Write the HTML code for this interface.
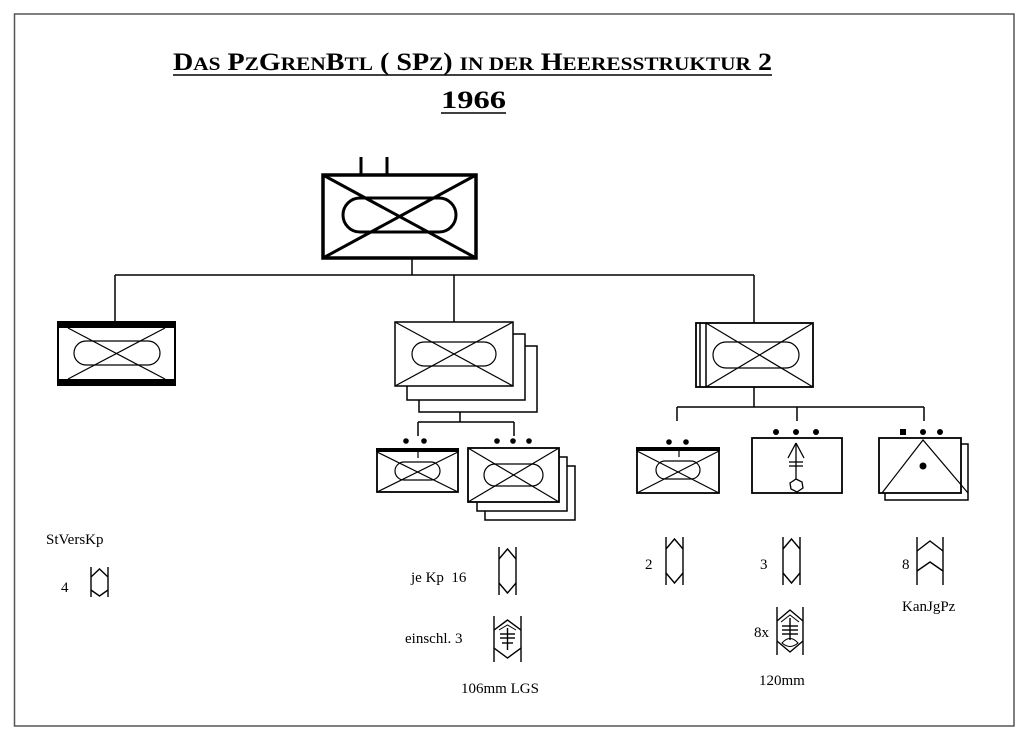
<!DOCTYPE html>
<html><head><meta charset="utf-8"><style>
html,body{margin:0;padding:0;background:#fff;}
svg{display:block;}
text{font-family:"Liberation Serif",serif;fill:#000;}
</style></head><body>
<svg width="1024" height="738" viewBox="0 0 1024 738" xmlns="http://www.w3.org/2000/svg">
<rect x="0" y="0" width="1024" height="738" fill="#fff"/>
<rect x="14.5" y="14" width="999.5" height="712" fill="none" stroke="#555" stroke-width="1.5"/>

<!-- Title -->
<text x="173" y="70" font-size="25" font-weight="bold" textLength="599" lengthAdjust="spacingAndGlyphs">D<tspan font-size="19">AS</tspan> P<tspan font-size="19">Z</tspan>G<tspan font-size="19">REN</tspan>B<tspan font-size="19">TL</tspan> ( SP<tspan font-size="19">Z</tspan>) <tspan font-size="19">IN DER</tspan> H<tspan font-size="19">EERESSTRUKTUR</tspan> 2</text>
<line x1="173" y1="75" x2="772" y2="75" stroke="#000" stroke-width="1.5"/>
<text x="441" y="108" font-size="25" font-weight="bold" textLength="65" lengthAdjust="spacingAndGlyphs">1966</text>
<line x1="441" y1="113" x2="506" y2="113" stroke="#000" stroke-width="1.5"/>

<g fill="none" stroke="#000">
<!-- HQ -->
<line x1="361" y1="157" x2="361" y2="174" stroke-width="3"/>
<line x1="387" y1="157" x2="387" y2="174" stroke-width="3"/>
<rect x="323" y="175" width="153" height="83" stroke-width="3.5"/>
<line x1="323" y1="175" x2="476" y2="258" stroke-width="3"/>
<line x1="476" y1="175" x2="323" y2="258" stroke-width="3"/>
<rect x="343" y="198" width="113" height="34" rx="17" stroke-width="3"/>

<!-- connectors level 1 -->
<g stroke-width="1.5">
<line x1="412" y1="258" x2="412" y2="275"/>
<line x1="115" y1="275" x2="754" y2="275"/>
<line x1="115" y1="275" x2="115" y2="321"/>
<line x1="454" y1="275" x2="454" y2="322"/>
<line x1="754" y1="275" x2="754" y2="323"/>
</g>

<!-- StVersKp box -->
<rect x="58" y="322" width="117" height="63" stroke-width="2"/>
<rect x="57" y="321" width="119" height="7" fill="#000" stroke="none"/>
<rect x="57" y="379" width="119" height="7" fill="#000" stroke="none"/>
<g stroke-width="1.2">
<line x1="68" y1="328" x2="165" y2="379"/><line x1="165" y1="328" x2="68" y2="379"/>
<rect x="74" y="341" width="86" height="24" rx="12"/>
</g>

<!-- PzGrenKp stacked -->
<g stroke-width="1.5">
<polyline points="419,400 419,412 537,412 537,346 525,346"/>
<polyline points="407,386 407,400 525,400 525,334 513,334"/>
<rect x="395" y="322" width="118" height="64" fill="#fff"/>
</g>
<g stroke-width="1.2">
<line x1="395" y1="322" x2="513" y2="386"/><line x1="513" y1="322" x2="395" y2="386"/>
<rect x="412" y="342" width="84" height="24" rx="12"/>
</g>
<g stroke-width="1.5">
<line x1="460" y1="412" x2="460" y2="422"/>
<line x1="418" y1="422" x2="514" y2="422"/>
<line x1="418" y1="422" x2="418" y2="436"/>
<line x1="514" y1="422" x2="514" y2="436"/>
</g>

<!-- sub box 1 -->
<rect x="377" y="449" width="81" height="43" stroke-width="1.8"/>
<rect x="376" y="448" width="83" height="4" fill="#000" stroke="none"/>
<g stroke-width="1.2">
<line x1="377" y1="452" x2="458" y2="492"/><line x1="458" y1="452" x2="377" y2="492"/>
<rect x="395" y="462" width="45" height="18" rx="9"/>
<line x1="418" y1="452" x2="418" y2="458"/>
</g>
<!-- sub box 2 stacked -->
<g stroke-width="1.5">
<polyline points="485,511 485,520 575,520 575,466 567,466"/>
<polyline points="477,502 477,511 567,511 567,457 559,457"/>
<rect x="468" y="448" width="91" height="54" fill="#fff" stroke-width="1.8"/>
</g>
<g stroke-width="1.2">
<line x1="468" y1="448" x2="559" y2="502"/><line x1="559" y1="448" x2="468" y2="502"/>
<rect x="484" y="464" width="59" height="22" rx="11"/>
</g>

<!-- Right top box -->
<rect x="696" y="323" width="117" height="64" stroke-width="1.8"/>
<line x1="700" y1="323" x2="700" y2="387" stroke-width="1.5"/>
<line x1="706" y1="323" x2="706" y2="387" stroke-width="1.5"/>
<g stroke-width="1.2">
<line x1="706" y1="323" x2="813" y2="387"/><line x1="813" y1="323" x2="706" y2="387"/>
<rect x="713" y="342" width="86" height="26" rx="13"/>
</g>
<g stroke-width="1.5">
<line x1="754" y1="387" x2="754" y2="407"/>
<line x1="677" y1="407" x2="924" y2="407"/>
<line x1="677" y1="407" x2="677" y2="421"/>
<line x1="797" y1="407" x2="797" y2="421"/>
<line x1="924" y1="407" x2="924" y2="421"/>
</g>

<!-- Box A -->
<rect x="637" y="449" width="82" height="44" stroke-width="1.8"/>
<rect x="636" y="447" width="84" height="4" fill="#000" stroke="none"/>
<g stroke-width="1.2">
<line x1="637" y1="451" x2="719" y2="493"/><line x1="719" y1="451" x2="637" y2="493"/>
<rect x="656" y="461" width="44" height="18" rx="9"/>
<line x1="679" y1="451" x2="679" y2="457"/>
</g>
<!-- Box B -->
<rect x="752" y="438" width="90" height="55" stroke-width="1.8"/>
<g stroke-width="1.3">
<line x1="796" y1="443" x2="796" y2="479"/>
<line x1="796" y1="443" x2="788" y2="458"/><line x1="796" y1="443" x2="804" y2="458"/>
<line x1="789" y1="462" x2="803" y2="462"/><line x1="789" y1="466" x2="803" y2="466"/>
<polygon points="796,479 802,482 803,488 797,492 791,489 790,483"/>
</g>
<!-- Box C -->
<polyline points="961,444 968,444 968,500 885,500 885,493" stroke-width="1.5"/>
<rect x="879" y="438" width="82" height="55" fill="#fff" stroke-width="1.8"/>
<polyline points="882,493 923,440 968,493" stroke-width="1.2"/>
</g>

<!-- dots -->
<g fill="#000">
<circle cx="406" cy="441" r="2.8"/><circle cx="424" cy="441" r="2.8"/>
<circle cx="497" cy="441" r="2.8"/><circle cx="513" cy="441" r="2.8"/><circle cx="529" cy="441" r="2.8"/>
<circle cx="669" cy="442" r="2.8"/><circle cx="686" cy="442" r="2.8"/>
<circle cx="776" cy="432" r="3"/><circle cx="796" cy="432" r="3"/><circle cx="816" cy="432" r="3"/>
<rect x="900" y="429" width="6" height="6"/><circle cx="923" cy="432" r="3"/><circle cx="940" cy="432" r="3"/>
<circle cx="923" cy="466" r="3.5"/>
</g>

<!-- vehicle symbols -->
<g fill="none" stroke="#000" stroke-width="1.4">
<!-- StVersKp -->
<line x1="91" y1="567" x2="91" y2="597"/><line x1="108" y1="567" x2="108" y2="597"/>
<polyline points="91,577 99.5,569 108,577"/><polyline points="91,590 99.5,596 108,590"/>
<!-- je Kp -->
<line x1="499" y1="547" x2="499" y2="595"/><line x1="516" y1="547" x2="516" y2="595"/>
<polyline points="499,559 507.5,549 516,559"/><polyline points="499,583 507.5,593 516,583"/>
<!-- einschl -->
<line x1="494" y1="616" x2="494" y2="662"/><line x1="521" y1="616" x2="521" y2="662"/>
<polyline points="494,630 507.5,620 521,630"/><polyline points="494,648 507.5,658 521,648"/>
<polyline points="499,630 507.5,625 516,630" stroke-width="1"/>
<line x1="507.5" y1="628" x2="507.5" y2="650"/>
<line x1="500" y1="634" x2="515" y2="634"/><line x1="500" y1="638" x2="515" y2="638"/><line x1="502" y1="643" x2="513" y2="643"/>
<!-- 2 -->
<line x1="666" y1="537" x2="666" y2="585"/><line x1="683" y1="537" x2="683" y2="585"/>
<polyline points="666,549 674.5,539 683,549"/><polyline points="666,573 674.5,583 683,573"/>
<!-- 3 -->
<line x1="783" y1="537" x2="783" y2="585"/><line x1="800" y1="537" x2="800" y2="585"/>
<polyline points="783,549 791.5,539 800,549"/><polyline points="783,573 791.5,583 800,573"/>
<!-- 8x -->
<line x1="777" y1="607" x2="777" y2="655"/><line x1="803" y1="607" x2="803" y2="655"/>
<polyline points="777,621 790,610 803,621"/><polyline points="781,622 790,615 799,622" stroke-width="1"/>
<polyline points="777,641 790,652 803,641"/>
<line x1="790" y1="618" x2="790" y2="640"/>
<line x1="782" y1="626" x2="798" y2="626"/><line x1="782" y1="630" x2="798" y2="630"/><line x1="782" y1="634" x2="798" y2="634"/>
<path d="M782,643 Q790,634 798,643 Q790,650 782,643 Z" stroke-width="1"/>
<!-- 8 KanJgPz -->
<line x1="917" y1="537" x2="917" y2="585"/><line x1="943" y1="537" x2="943" y2="585"/>
<polyline points="917,551 930,541 943,551"/><polyline points="917,571 930,562 943,571"/>
</g>

<!-- labels -->
<g font-size="15">
<text x="46" y="544">StVersKp</text>
<text x="61" y="592">4</text>
<text x="411" y="582">je Kp&#160; 16</text>
<text x="405" y="643">einschl. 3</text>
<text x="461" y="693">106mm LGS</text>
<text x="645" y="569">2</text>
<text x="760" y="569">3</text>
<text x="754" y="637">8x</text>
<text x="759" y="685">120mm</text>
<text x="902" y="569">8</text>
<text x="902" y="611">KanJgPz</text>
</g>
</svg>
</body></html>
